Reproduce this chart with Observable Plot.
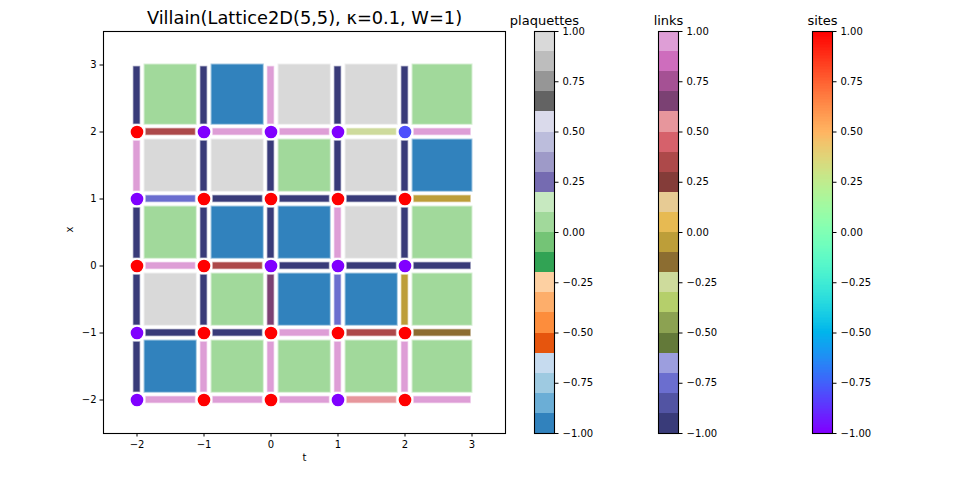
<!DOCTYPE html>
<html>
<head>
<meta charset="utf-8">
<script src="https://cdn.jsdelivr.net/npm/d3@7"></script>
<script src="https://cdn.jsdelivr.net/npm/@observablehq/plot@0.6"></script>
<style>
  html, body { margin: 0; padding: 0; background: #fff; }
  #fig { position: relative; width: 960px; height: 480px; overflow: hidden; }
  #fig > svg { position: absolute; top: 0; }
</style>
</head>
<body>
<div id="fig"></div>
<script>
// Lattice coordinates (t = columns, x = rows)
const tValues = [-2, -1, 0, 1, 2];
const xValues = [2, 1, 0, -1, -2]; // row order used by the tables below (top to bottom)

// Site field, one row per x (x = 2 first), columns t = -2..2
const siteRows = [
  [ 1, -1, -1, -1, -0.8],
  [-1,  1,  1,  1,  1],
  [ 1,  1, -1, -1, -1],
  [-1,  1,  1,  1,  1],
  [-1,  1,  1, -1,  1]
];

// Plaquette values, plaquette (t, x) spans [t, t+1] x [x, x+1]
const plaquetteRows = [
  [ 0, -1,  1,  1,  0],
  [ 1,  1,  0,  1, -1],
  [ 0, -1, -1,  1,  0],
  [ 1,  0, -1, -1,  0],
  [-1,  0,  0,  0,  0]
];

// Links along t: from (t, x) to (t+1, x)
const tLinkRows = [
  [ 0.35,  1,    1,   -0.25,  1],
  [-0.75, -1,   -1,   -1,    -0.05],
  [ 1,     0.35, -1,  -1,    -1],
  [-1,    -1,    1,    0.35, -0.15],
  [ 1,     1,    1,    0.55,  1]
];

// Links along x: from (t, x) to (t, x+1)
const xLinkRows = [
  [-1, -1,  1,    -1,    -1],
  [ 1, -1, -1,    -1,    -1],
  [-1, -1, -1,     1,    -1],
  [-1, -1,  0.65, -0.75, -0.05],
  [-1,  1,  1,     1,     1]
];

const axisTicks = [-2, -1, 0, 1, 2, 3];
const barTicks = [-1, -0.75, -0.5, -0.25, 0, 0.25, 0.5, 0.75, 1];
const titleText = "Villain(Lattice2D(5,5), \u03ba=0.1, W=1)";

// Colormaps
const tab20c = ["#3182bd","#6baed6","#9ecae1","#c6dbef","#e6550d","#fd8d3c","#fdae6b","#fdd0a2",
                "#31a354","#74c476","#a1d99b","#c7e9c0","#756bb1","#9e9ac8","#bcbddc","#dadaeb",
                "#636363","#969696","#bdbdbd","#d9d9d9"];
const tab20b = ["#393b79","#5254a3","#6b6ecf","#9c9ede","#637939","#8ca252","#b5cf6b","#cedb9c",
                "#8c6d31","#bd9e39","#e7ba52","#e7cb94","#843c39","#ad494a","#d6616b","#e7969c",
                "#7b4173","#a55194","#ce6dbd","#de9ed6"];
function rainbowInterp(u) {
  const r = Math.min(1, Math.abs(2 * u - 0.5));
  const g = Math.max(0, Math.sin(Math.PI * u));
  const b = Math.max(0, Math.cos(Math.PI * u / 2));
  return d3.rgb(r * 255, g * 255, b * 255).formatHex();
}

const plaqColor = d3.scaleQuantize().domain([-1, 1]).range(tab20c);
const linkColor = d3.scaleQuantize().domain([-1, 1]).range(tab20b);
const siteColor = d3.scaleSequential(rainbowInterp).domain([-1, 1]);

// Flatten the tables
function flatten(rows) {
  const out = [];
  rows.forEach((row, i) => row.forEach((v, j) => out.push({t: tValues[j], x: xValues[i], v})));
  return out;
}
const sites = flatten(siteRows);
const plaquettes = flatten(plaquetteRows);
const tLinks = flatten(tLinkRows);
const xLinks = flatten(xLinkRows);

const last = 2;          // last lattice index in either direction
const half = 0.045;      // half thickness of a link bar, data units

const baseStyle = {fontFamily: "DejaVu Sans, sans-serif", fontSize: "10px", color: "black", background: "transparent", overflow: "visible"};

const fig = document.getElementById("fig");

const main = Plot.plot({
  width: 960,
  height: 480,
  marginLeft: 103,
  marginRight: 455,
  marginTop: 31,
  marginBottom: 47,
  style: baseStyle,
  x: {domain: [-2.5, 3.5]},
  y: {domain: [-2.5, 3.5]},
  color: {type: "identity"},
  marks: [
    Plot.rect(plaquettes, {
      x1: d => d.t + 0.12, x2: d => d.t === last ? d.t + 1 : d.t + 0.885,
      y1: d => d.x + 0.115, y2: d => d.x === last ? d.x + 1 : d.x + 0.88,
      fill: d => plaqColor(d.v), stroke: d => plaqColor(d.v), strokeOpacity: 0.45, strokeWidth: 2
    }),
    Plot.rect(tLinks, {
      x1: d => d.t + 0.14, x2: d => d.t === last ? d.t + 0.98 : d.t + 0.87,
      y1: d => d.x - half, y2: d => d.x + half,
      fill: d => linkColor(d.v), stroke: d => linkColor(d.v), strokeOpacity: 0.45, strokeWidth: 1.5
    }),
    Plot.rect(xLinks, {
      x1: d => d.t - half, x2: d => d.t + half,
      y1: d => d.x + 0.12, y2: d => d.x === last ? d.x + 0.97 : d.x + 0.86,
      fill: d => linkColor(d.v), stroke: d => linkColor(d.v), strokeOpacity: 0.45, strokeWidth: 1.5
    }),
    Plot.dot(sites, {x: "t", y: "x", r: 7, fill: d => siteColor(d.v), stroke: "white", strokeWidth: 1.3}),
    Plot.frame({stroke: "black", strokeWidth: 1.1}),
    Plot.axisX({ticks: axisTicks, tickFormat: d3.format("d"), tickSize: 3.5, tickPadding: 3.5, label: null}),
    Plot.axisY({ticks: axisTicks, tickFormat: d3.format("d"), tickSize: 3.5, tickPadding: 3.5, label: null}),
    Plot.text(["t"], {text: d => d, frameAnchor: "bottom", dy: 27, fontSize: 10, fill: "black"}),
    Plot.text(["x"], {text: d => d, frameAnchor: "left", dx: -34, rotate: -90, fontSize: 10, fill: "black"}),
    Plot.text([titleText], {text: d => d, frameAnchor: "top", lineAnchor: "bottom", dy: -7.5, fontSize: 17.8, fill: "black"})
  ]
});
main.style.left = "0px";
fig.appendChild(main);

// Colour bars: one bin per colormap entry
function bins(colors) {
  const n = colors.length;
  return colors.map((c, i) => ({lo: -1 + 2 * i / n, hi: -1 + 2 * (i + 1) / n, c}));
}
const rainbowColors = d3.range(256).map(i => rainbowInterp(i / 255));

function colorbar(left, title, colors) {
  const svg = Plot.plot({
    width: 110,
    height: 480,
    marginLeft: 2,
    marginRight: 88,
    marginTop: 31,
    marginBottom: 47,
    style: baseStyle,
    x: {domain: [0, 1], axis: null},
    y: {domain: [-1, 1], axis: null},
    color: {type: "identity"},
    marks: [
      Plot.rect(bins(colors), {x1: 0, x2: 1, y1: "lo", y2: "hi", fill: d => d.c, shapeRendering: "crispEdges"}),
      Plot.frame({stroke: "black", strokeWidth: 1.1}),
      Plot.axisY({anchor: "right", ticks: barTicks, tickFormat: d3.format(".2f"), tickSize: 3.5, tickPadding: 4.5, label: null}),
      Plot.text([title], {text: d => d, frameAnchor: "top", lineAnchor: "bottom", dy: -6.5, fontSize: 13, fill: "black"})
    ]
  });
  svg.style.left = left + "px";
  fig.appendChild(svg);
}

colorbar(532, "plaquettes", tab20c);
colorbar(656, "links", tab20b);
colorbar(810, "sites", rainbowColors);
</script>
</body>
</html>
